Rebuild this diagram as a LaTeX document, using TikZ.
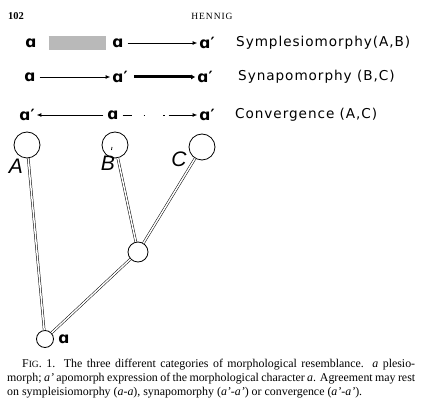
\documentclass[tikz,border=0pt]{standalone}
\usepackage{fontspec}
\setmainfont{Liberation Serif}
\newfontfamily\chrfont{DejaVu Sans}
\newfontfamily\labfont[LetterSpace=7]{DejaVu Sans}
\newfontfamily\headfont[LetterSpace=10]{Liberation Serif}
\newfontfamily\taxfont{Liberation Sans}
\usetikzlibrary{arrows.meta}

\tikzset{
  chr/.style={font={\chrfont\bfseries\fontsize{15.5}{18}\selectfont}, inner sep=1pt},
  lab/.style={font={\labfont\fontsize{13.6}{16}\selectfont}, anchor=west, inner sep=0pt},
  arr/.style={-{Latex[length=4.5pt,width=4pt]}, line width=0.8pt, shorten <=3pt, shorten >=1pt},
  stipple/.style={line width=14pt, gray!55, shorten <=11pt, shorten >=5pt},
  bar/.style={-{Latex[length=4pt,width=5pt]}, line width=3pt, shorten <=5pt, shorten >=1pt},
  tax/.style={circle, draw, line width=0.8pt, minimum size=26pt, inner sep=0pt},
  anc/.style={circle, draw, line width=0.8pt, minimum size=20pt, inner sep=0pt},
  stem/.style={double, line width=0.5pt, double distance=1.5pt},
  taxlab/.style={font={\taxfont\itshape\fontsize{21}{24}\selectfont}, inner sep=0pt},
  capline/.style={anchor=base west, inner sep=0pt, font=\fontsize{11.9}{14}\selectfont}
}

\begin{document}
\begin{tikzpicture}[x=1pt,y=-1pt]
  \useasboundingbox (0,0) rectangle (440,406);

  % page head
  \node[anchor=base west, inner sep=0pt, font=\bfseries\fontsize{10.5}{12}\selectfont] (pg) at (8,20) {102};
  \node[anchor=base, inner sep=0pt, font={\headfont\fontsize{9.5}{11}\selectfont}] (hd) at (212,20) {HENNIG};

  % symplesiomorphy
  \node[chr] (s1) at (31,43) {ɑ};
  \node[chr] (s2) at (118,43) {ɑ};
  \node[chr] (s3) at (207,43) {ɑ′};
  \draw[stipple] (s1) -- (s2);
  \draw[arr] (s2) -- (s3);
  \node[lab] (l1) at (236,43) {Symplesiomorphy(A,B)};

  % synapomorphy
  \node[chr] (p1) at (30,77) {ɑ};
  \node[chr] (p2) at (120,77) {ɑ′};
  \node[chr] (p3) at (205,77) {ɑ′};
  \draw[arr] (p1) -- (p2);
  \draw[bar] (p2) -- (p3);
  \node[lab] (l2) at (238,77) {Synapomorphy (B,C)};

  % convergence
  \node[chr] (c1) at (27,115) {ɑ′};
  \node[chr] (c2) at (113,115) {ɑ};
  \node[chr] (c3) at (207,115) {ɑ′};
  \draw[arr] (c2) -- (c1);
  \draw[arr, dash pattern=on 9pt off 12pt on 1.5pt off 18pt on 1.5pt off 4pt on 80pt off 1pt] (c2) -- (c3);
  \node[lab] (l3) at (235,115) {Convergence (A,C)};

  % tree
  \node[tax] (A) at (27,145) {};
  \node[tax] (B) at (115,145) {};
  \node[tax] (C) at (202,147) {};
  \node[anc] (m) at (138,252) {};
  \node[anc, minimum size=17pt] (r) at (45,339) {};
  \draw[stem] (A) -- (r);
  \draw[stem] (B) -- (m);
  \draw[stem] (C) -- (m);
  \draw[stem] (m) -- (r);
  \draw[line width=0.8pt] ([shift={(-3,2)}]B.center) -- ++(-0.5,3);
  \node[taxlab] (la) at (16,166) {A};
  \node[taxlab] (lb) at (108,163) {B};
  \node[taxlab] (lc) at (179,159) {C};
  \node[chr] (lr) at (64,339) {ɑ};

  % caption
  \node[capline] (cap1) at (22,368) {\makebox[393pt][s]{F{\fontsize{9.5}{10}\selectfont IG}. 1. The three different categories of morphological resemblance. \textit{a} plesio-}};
  \node[capline] (cap2) at (7,382) {\makebox[408pt][s]{morph; \textit{a'} apomorph expression of the morphological character \textit{a}. Agreement may rest}};
  \node[capline] (cap3) at (7,396) {\makebox[355pt][s]{on sympleisiomorphy (\textit{a-a}), synapomorphy (\textit{a'-a'}) or convergence (\textit{a'-a'}).}};
\end{tikzpicture}
\end{document}
